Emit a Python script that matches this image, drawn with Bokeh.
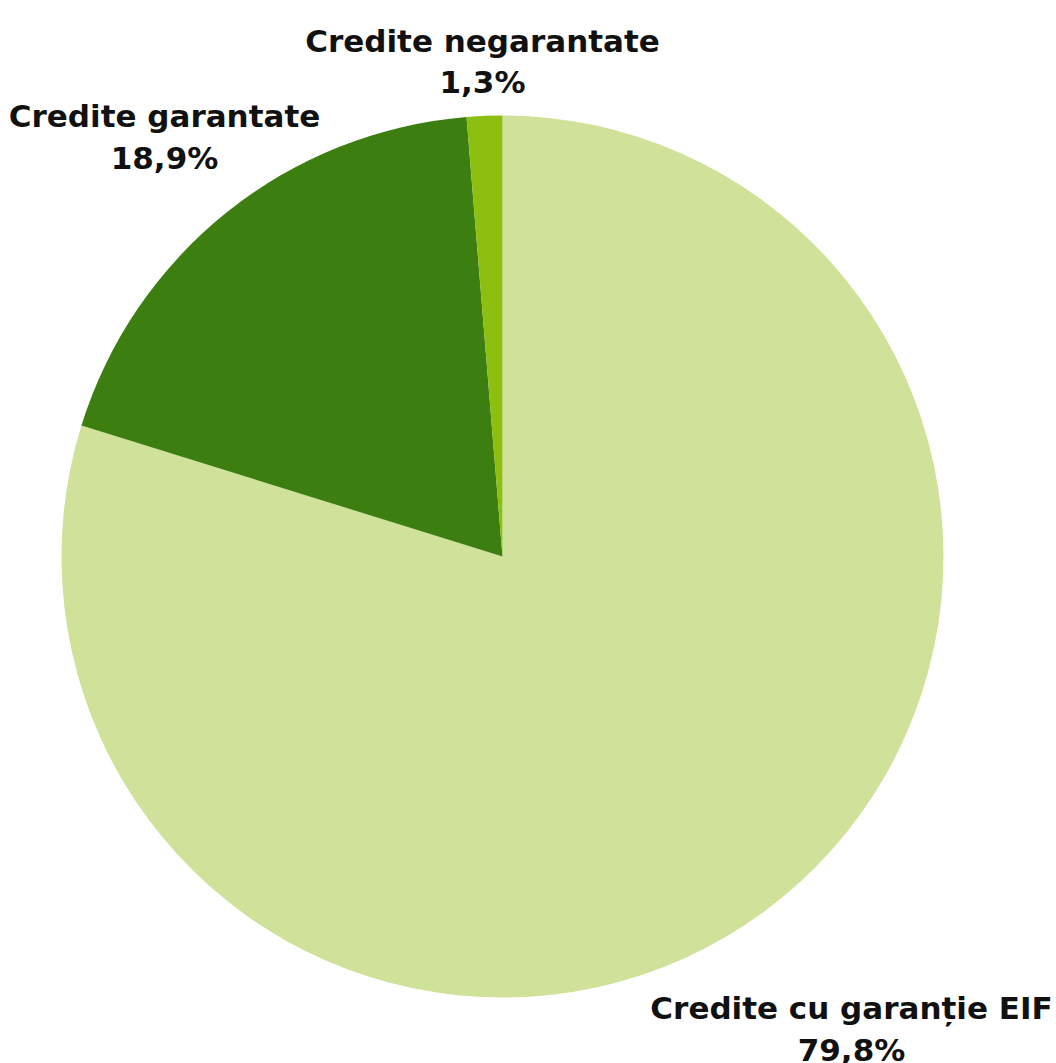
import math
from bokeh.plotting import figure
from bokeh.models import Range1d, ColumnDataSource
from bokeh.core.properties import value
from bokeh.embed import file_html
from bokeh.resources import INLINE

categories = ["Credite cu garanție EIF", "Credite garantate", "Credite negarantate"]
shares = [79.8, 18.9, 1.3]
pct_labels = ["79,8%", "18,9%", "1,3%"]
colors = ["#D0E199", "#3D7E10", "#8CBF10"]

W, H = 1056, 1063
p = figure(width=W, height=H, output_backend="svg", toolbar_location=None,
           x_range=Range1d(0, W), y_range=Range1d(0, H), min_border=0)
p.axis.visible = False
p.grid.visible = False
p.outline_line_color = None
p.background_fill_color = "white"

def py(y_page):
    return H - y_page

cx, cy, r = 502, py(556), 441
total = sum(shares)
starts, ends = [], []
acc = 0.0
for s in shares:
    starts.append(math.pi / 2 - acc / total * 2 * math.pi)
    acc += s
    ends.append(math.pi / 2 - acc / total * 2 * math.pi)

src = ColumnDataSource(dict(x=[cx] * 3, y=[cy] * 3, start=starts, end=ends, color=colors))
p.wedge(x="x", y="y", radius=r, start_angle="start", end_angle="end", direction="clock",
        fill_color="color", line_color=None, source=src)

# label anchors (page px): center x, baseline of name, baseline of pct
anchors = [(851, 1007, 1049), (164, 115, 157), (482, 40, 81)]
font = value("DejaVu Sans")
for name, pct, (ax, b1, b2) in zip(categories, pct_labels, anchors):
    p.text(x=[ax], y=[py(b1)], text=[name], text_align="center", text_baseline="alphabetic",
           text_font=font, text_font_style="bold", text_font_size="31px", text_color="#111111")
    p.text(x=[ax], y=[py(b2)], text=[pct], text_align="center", text_baseline="alphabetic",
           text_font=font, text_font_style="bold", text_font_size="31px", text_color="#111111")

open("out.html", "w").write(file_html(p, INLINE))
